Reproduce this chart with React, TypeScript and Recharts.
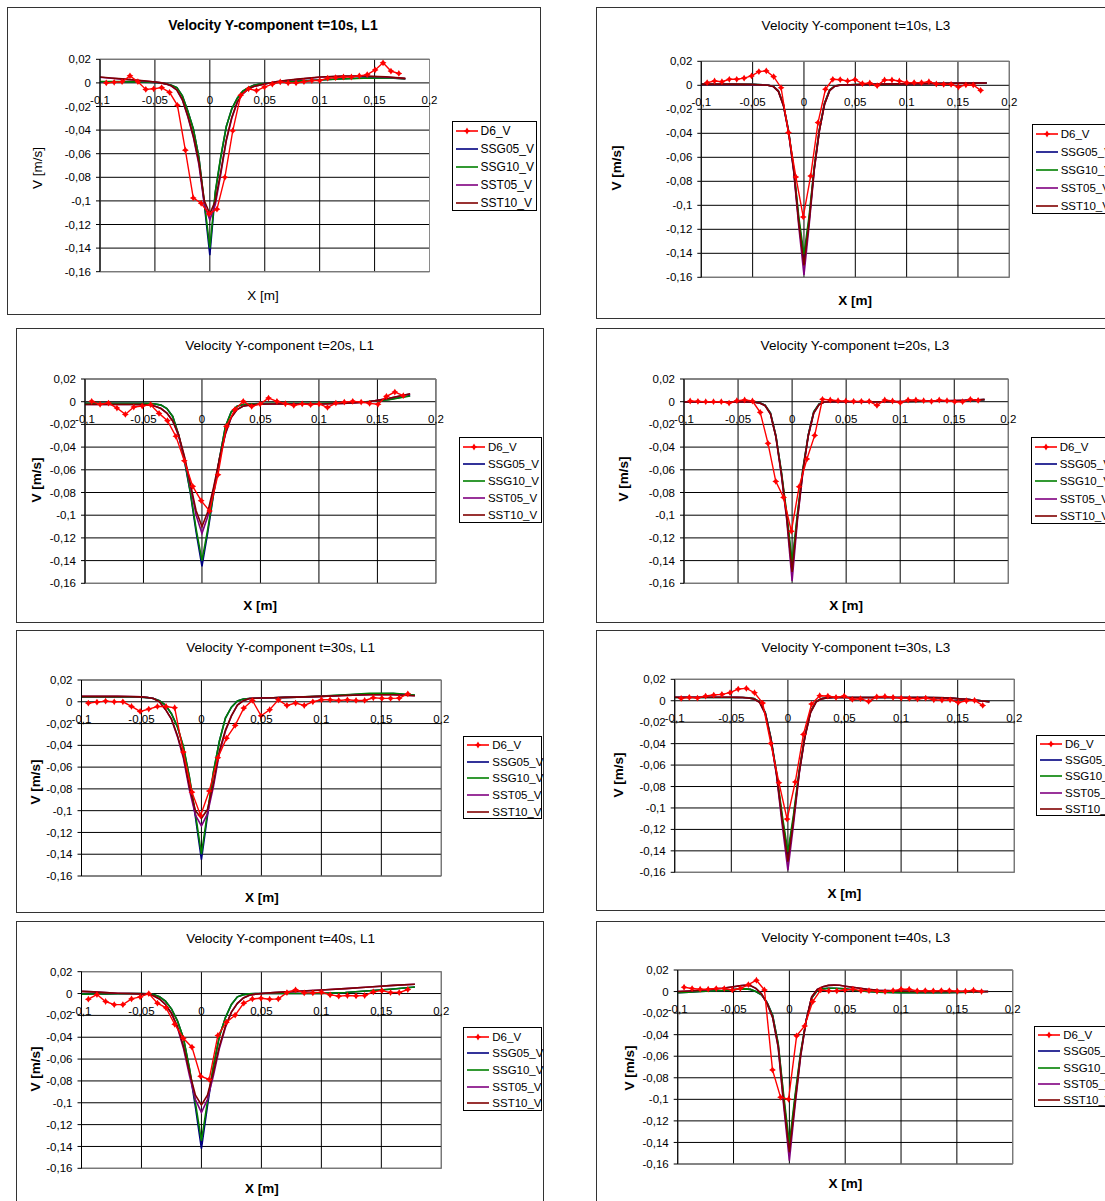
import React from "react";
import {
  CartesianGrid,
  Line,
  LineChart,
  ReferenceArea,
  ReferenceDot,
  XAxis,
  YAxis,
} from "recharts";

const FONT = '"Liberation Sans", Arial, sans-serif';

const xTicks = [-0.1, -0.05, 0, 0.05, 0.1, 0.15, 0.2];
const yTicks = [0.02, 0, -0.02, -0.04, -0.06, -0.08, -0.1, -0.12, -0.14, -0.16];
const seriesNames = ["D6_V", "SSG05_V", "SSG10_V", "SST05_V", "SST10_V"];
const seriesColors = ["#ff0000", "#000080", "#008000", "#800080", "#800000"];

// measured points (D6)
const d6X = [
  -0.0943, -0.0871, -0.0799, -0.0727, -0.0655, -0.0583, -0.0511, -0.0439, -0.0367, -0.0295,
  -0.0223, -0.0151, -0.0079, -0.0007, 0.0065, 0.0137, 0.0209, 0.0281, 0.0353, 0.0425,
  0.0497, 0.0569, 0.0641, 0.0713, 0.0785, 0.0857, 0.0929, 0.1001, 0.1073, 0.1145,
  0.1217, 0.1289, 0.1361, 0.1433, 0.1505, 0.1577, 0.1649, 0.1721,
];

// simulation output positions
const modelX = [
  -0.1, -0.09, -0.08, -0.07, -0.06, -0.05, -0.045, -0.04, -0.035, -0.03, -0.025, -0.02,
  -0.015, -0.01, -0.005, 0, 0.005, 0.01, 0.015, 0.02, 0.025, 0.03, 0.035, 0.04, 0.045,
  0.05, 0.06, 0.07, 0.08, 0.1, 0.12, 0.14, 0.16, 0.178,
];

// t=10s, L1
const t10L1D6 = [0, 0.0005, 0.001, 0.006, 0.001, -0.0055, -0.005, -0.004, -0.008, -0.019, -0.057, -0.0975, -0.102, -0.111, -0.107, -0.08, -0.0405, -0.0105, -0.005, -0.0065, -0.0035, -0.001, 0.0008, 0, 0, 0.001, 0.002, 0.002, 0.004, 0.0045, 0.005, 0.005, 0.006, 0.007, 0.011, 0.017, 0.01, 0.008];
const t10L1SSG05 = [0.001, 0.001, 0.001, 0.0008, 0.0006, 0.0003, 0, -0.0008, -0.002, -0.004, -0.011, -0.024, -0.039, -0.063, -0.103, -0.146, -0.093, -0.063, -0.037, -0.022, -0.013, -0.007, -0.004, -0.002, -0.001, -0.0005, 0.0003, 0.001, 0.0015, 0.0025, 0.0035, 0.0042, 0.0045, 0.0035];
const t10L1SSG10 = [0.0012, 0.0012, 0.0011, 0.0009, 0.0007, 0.0004, 0.0001, -0.0007, -0.002, -0.004, -0.011, -0.024, -0.039, -0.063, -0.101, -0.14, -0.092, -0.062, -0.037, -0.022, -0.013, -0.007, -0.004, -0.002, -0.001, -0.0005, 0.0003, 0.001, 0.0015, 0.0024, 0.0033, 0.004, 0.0043, 0.0034];
const t10L1SST05 = [0.0048, 0.004, 0.0032, 0.0024, 0.0016, 0.0007, 0.0001, -0.0009, -0.0027, -0.0062, -0.0145, -0.029, -0.046, -0.069, -0.103, -0.116, -0.103, -0.077, -0.049, -0.03, -0.0165, -0.0093, -0.0052, -0.0031, -0.002, -0.001, 0.0009, 0.002, 0.003, 0.0048, 0.0056, 0.0056, 0.005, 0.0036];
const t10L1SST10 = [0.005, 0.0042, 0.0034, 0.0026, 0.0018, 0.0008, 0.0002, -0.0008, -0.0025, -0.006, -0.014, -0.028, -0.045, -0.067, -0.1, -0.111, -0.1, -0.075, -0.048, -0.029, -0.016, -0.009, -0.005, -0.003, -0.002, -0.001, 0.001, 0.0022, 0.0032, 0.005, 0.0058, 0.0058, 0.0052, 0.0038];

// t=10s, L3
const t10L3D6 = [0.0022, 0.0036, 0.003, 0.005, 0.005, 0.006, 0.0078, 0.0114, 0.012, 0.0072, -0.002, -0.0394, -0.0764, -0.1097, -0.0756, -0.0311, -0.0033, 0.005, 0.0047, 0.0036, 0.0047, 0.0014, 0.0019, -0.0003, 0.0044, 0.0044, 0.0036, 0.0022, 0.0022, 0.0022, 0.003, 0.0011, 0.0008, 0.0008, -0.0014, 0.0003, 0.0003, -0.0042];
const t10L3SSG05 = [0.001, 0.001, 0.001, 0.001, 0.0009, 0.0008, 0.0006, 0.0004, 0.0001, -0.0008, -0.0045, -0.016, -0.038, -0.07, -0.113, -0.146, -0.112, -0.069, -0.037, -0.015, -0.004, -0.0005, 0.0002, 0.0004, 0.0005, 0.0006, 0.0008, 0.001, 0.0011, 0.0013, 0.0015, 0.0017, 0.0019, 0.002];
const t10L3SSG10 = [0.001, 0.001, 0.001, 0.001, 0.0009, 0.0008, 0.0006, 0.0004, 0.0001, -0.0008, -0.0045, -0.016, -0.038, -0.069, -0.11, -0.141, -0.109, -0.068, -0.037, -0.015, -0.004, -0.0005, 0.0002, 0.0004, 0.0005, 0.0006, 0.0008, 0.001, 0.0011, 0.0013, 0.0015, 0.0017, 0.0019, 0.002];
const t10L3SST05 = [0.0008, 0.0008, 0.0008, 0.0008, 0.0007, 0.0006, 0.0004, 0.0002, 0, -0.001, -0.005, -0.017, -0.039, -0.072, -0.118, -0.158, -0.117, -0.071, -0.038, -0.016, -0.0045, -0.0008, 0.0001, 0.0003, 0.0004, 0.0005, 0.0007, 0.0009, 0.001, 0.0012, 0.0014, 0.0016, 0.0018, 0.0019];
const t10L3SST10 = [0.0009, 0.0009, 0.0009, 0.0009, 0.0008, 0.0007, 0.0005, 0.0003, 0, -0.001, -0.005, -0.017, -0.039, -0.071, -0.115, -0.15, -0.114, -0.07, -0.038, -0.016, -0.0045, -0.0008, 0.0001, 0.0003, 0.0004, 0.0005, 0.0007, 0.0009, 0.001, 0.0012, 0.0014, 0.0016, 0.0018, 0.0019];

// t=20s, L1
const t20L1D6 = [0.0003, -0.0023, -0.0012, -0.0056, -0.0112, -0.0047, -0.0038, -0.0026, -0.0103, -0.0167, -0.0305, -0.052, -0.0746, -0.0872, -0.0963, -0.0643, -0.0217, -0.007, 0.0003, -0.0041, -0.002, 0.0032, 0.0003, -0.0018, -0.0032, -0.002, -0.0026, -0.002, -0.005, -0.0012, -0.0003, 0.0003, -0.0003, -0.0015, -0.0023, 0.0047, 0.0085, 0.0053];
const t20L1SSG05 = [-0.0015, -0.0015, -0.0015, -0.0015, -0.0015, -0.0015, -0.0016, -0.002, -0.003, -0.006, -0.013, -0.029, -0.052, -0.08, -0.115, -0.145, -0.115, -0.081, -0.05, -0.022, -0.009, -0.004, -0.0025, -0.002, -0.0018, -0.0017, -0.0016, -0.0016, -0.0016, -0.0016, -0.0012, -0.0002, 0.002, 0.0055];
const t20L1SSG10 = [-0.0013, -0.0013, -0.0013, -0.0013, -0.0013, -0.0013, -0.0015, -0.002, -0.003, -0.006, -0.013, -0.029, -0.051, -0.079, -0.112, -0.14, -0.112, -0.08, -0.05, -0.022, -0.009, -0.004, -0.0025, -0.002, -0.0018, -0.0016, -0.0015, -0.0015, -0.0015, -0.0015, -0.001, 0, 0.0018, 0.005];
const t20L1SST05 = [-0.0025, -0.0025, -0.0025, -0.0025, -0.0025, -0.0026, -0.003, -0.004, -0.006, -0.01, -0.017, -0.03, -0.049, -0.074, -0.1, -0.116, -0.101, -0.077, -0.051, -0.029, -0.014, -0.007, -0.004, -0.003, -0.0025, -0.0022, -0.002, -0.002, -0.002, -0.002, -0.0015, -0.0005, 0.003, 0.0068];
const t20L1SST10 = [-0.0025, -0.0025, -0.0025, -0.0025, -0.0025, -0.0026, -0.003, -0.004, -0.006, -0.01, -0.017, -0.029, -0.048, -0.072, -0.096, -0.11, -0.097, -0.075, -0.05, -0.028, -0.014, -0.007, -0.004, -0.003, -0.0025, -0.0022, -0.002, -0.002, -0.002, -0.002, -0.0015, -0.0005, 0.003, 0.007];

// t=20s, L3
const t20L3D6 = [0.0006, 0.0003, 0, 0, 0, -0.0012, 0.0009, 0.0015, 0.0006, -0.0094, -0.0367, -0.0702, -0.0843, -0.1142, -0.0749, -0.0505, -0.0297, 0.0021, 0.0015, 0.0009, 0.0006, 0.0003, 0.0003, 0.0003, -0.0032, 0.0015, 0.0006, -0.0009, 0.0015, 0.0015, 0.0009, 0.0003, 0.0015, 0.0009, 0, 0, 0.0021, 0.0012];
const t20L3SSG05 = [0, 0, 0, 0, 0, 0, 0, 0, -0.0003, -0.001, -0.003, -0.01, -0.03, -0.062, -0.1, -0.146, -0.1, -0.06, -0.029, -0.009, -0.002, 0, 0, 0, 0, 0, 0, 0, 0, 0, 0.0003, 0.0006, 0.001, 0.0018];
const t20L3SSG10 = [0, 0, 0, 0, 0, 0, 0, 0, -0.0003, -0.001, -0.003, -0.01, -0.03, -0.061, -0.098, -0.141, -0.098, -0.059, -0.029, -0.009, -0.002, 0, 0, 0, 0, 0, 0, 0, 0, 0, 0.0003, 0.0006, 0.001, 0.0018];
const t20L3SST05 = [-0.0002, -0.0002, -0.0002, -0.0002, -0.0002, -0.0002, -0.0002, -0.0002, -0.0005, -0.0012, -0.0035, -0.011, -0.031, -0.064, -0.104, -0.158, -0.104, -0.062, -0.03, -0.01, -0.0025, -0.0003, 0, 0, 0, 0, 0, 0, 0, 0.0002, 0.0004, 0.0007, 0.0012, 0.002];
const t20L3SST10 = [-0.0002, -0.0002, -0.0002, -0.0002, -0.0002, -0.0002, -0.0002, -0.0002, -0.0005, -0.0012, -0.0035, -0.011, -0.031, -0.063, -0.102, -0.15, -0.102, -0.061, -0.03, -0.01, -0.0025, -0.0003, 0, 0, 0, 0, 0, 0, 0, 0.0002, 0.0004, 0.0007, 0.0012, 0.002];

// t=30s, L1
const t30L1D6 = [-0.0012, -0.0003, 0.0006, 0, 0, -0.0043, -0.0089, -0.0067, -0.0043, -0.0043, -0.0055, -0.0462, -0.083, -0.1044, -0.082, -0.0514, -0.0334, -0.0217, -0.0058, 0.0012, -0.0129, -0.0073, 0.0018, -0.0034, -0.0012, -0.0034, 0, 0.0018, 0.0018, 0.0012, 0.0018, 0.0012, 0.0012, 0.0037, 0.0031, 0.0031, 0.0034, 0.0073];
const t30L1SSG05 = [0.0045, 0.0045, 0.0045, 0.0045, 0.0045, 0.0042, 0.0038, 0.003, 0.001, -0.003, -0.011, -0.023, -0.042, -0.07, -0.106, -0.145, -0.105, -0.065, -0.036, -0.015, -0.005, 0.0008, 0.0025, 0.003, 0.0033, 0.0035, 0.0037, 0.004, 0.0042, 0.005, 0.0062, 0.0074, 0.0076, 0.006];
const t30L1SSG10 = [0.0045, 0.0045, 0.0045, 0.0045, 0.0045, 0.0042, 0.0038, 0.003, 0.001, -0.003, -0.011, -0.023, -0.041, -0.069, -0.103, -0.14, -0.102, -0.064, -0.036, -0.015, -0.005, 0.0008, 0.0025, 0.003, 0.0033, 0.0035, 0.0037, 0.004, 0.0043, 0.0052, 0.0065, 0.0077, 0.0078, 0.0062];
const t30L1SST05 = [0.005, 0.005, 0.005, 0.005, 0.0048, 0.0045, 0.004, 0.003, 0, -0.007, -0.016, -0.032, -0.052, -0.081, -0.104, -0.114, -0.103, -0.078, -0.047, -0.027, -0.013, -0.003, 0.001, 0.003, 0.0033, 0.0035, 0.0037, 0.004, 0.0043, 0.005, 0.0058, 0.0064, 0.0065, 0.0055];
const t30L1SST10 = [0.005, 0.005, 0.005, 0.005, 0.0048, 0.0045, 0.004, 0.003, 0, -0.007, -0.016, -0.031, -0.05, -0.078, -0.1, -0.107, -0.099, -0.075, -0.045, -0.026, -0.013, -0.003, 0.001, 0.003, 0.0033, 0.0035, 0.0037, 0.004, 0.0043, 0.005, 0.0058, 0.0064, 0.0065, 0.0055];

// t=30s, L3
const t30L3D6 = [0.0022, 0.0031, 0.0025, 0.0044, 0.0053, 0.0059, 0.0075, 0.0109, 0.0115, 0.0075, -0.0022, -0.0398, -0.0765, -0.1104, -0.0758, -0.0314, -0.0031, 0.0047, 0.0044, 0.0031, 0.0044, 0.0012, 0.0019, -0.0006, 0.0037, 0.004, 0.0031, 0.0025, 0.0022, 0.0016, 0.0025, 0.0009, 0.0006, 0.0009, -0.0016, 0, 0.0003, -0.0044];
const t30L3SSG05 = [0.003, 0.003, 0.003, 0.003, 0.003, 0.003, 0.003, 0.003, 0.0028, 0.002, -0.001, -0.011, -0.035, -0.068, -0.11, -0.145, -0.109, -0.066, -0.033, -0.01, -0.0005, 0.002, 0.0028, 0.003, 0.003, 0.003, 0.003, 0.003, 0.003, 0.003, 0.003, 0.0028, 0.0012, -0.0008];
const t30L3SSG10 = [0.003, 0.003, 0.003, 0.003, 0.003, 0.003, 0.003, 0.003, 0.0028, 0.002, -0.001, -0.011, -0.035, -0.067, -0.107, -0.141, -0.106, -0.065, -0.033, -0.01, -0.0005, 0.002, 0.0028, 0.003, 0.003, 0.003, 0.003, 0.003, 0.003, 0.003, 0.003, 0.0028, 0.0012, -0.0008];
const t30L3SST05 = [0.0032, 0.0032, 0.0032, 0.0032, 0.0032, 0.0032, 0.0031, 0.003, 0.0026, 0.0016, -0.0015, -0.012, -0.036, -0.07, -0.116, -0.158, -0.115, -0.068, -0.034, -0.011, -0.001, 0.0018, 0.0027, 0.003, 0.003, 0.003, 0.003, 0.003, 0.003, 0.003, 0.003, 0.0027, 0.0011, -0.001];
const t30L3SST10 = [0.0032, 0.0032, 0.0032, 0.0032, 0.0032, 0.0032, 0.0031, 0.003, 0.0026, 0.0016, -0.0015, -0.012, -0.036, -0.069, -0.112, -0.15, -0.111, -0.067, -0.034, -0.011, -0.001, 0.0018, 0.0027, 0.003, 0.003, 0.003, 0.003, 0.003, 0.003, 0.003, 0.003, 0.0027, 0.0011, -0.001];

// t=40s, L1
const t40L1D6 = [-0.0052, -0.0009, -0.0073, -0.0101, -0.0101, -0.0049, -0.0031, 0, -0.0088, -0.0131, -0.0281, -0.0409, -0.0491, -0.0757, -0.0787, -0.0384, -0.0262, -0.0198, -0.0088, -0.0049, -0.0043, -0.0052, -0.0049, 0.0009, 0.0034, 0.0006, 0.0006, 0.0012, -0.0012, -0.0024, -0.0018, -0.0021, -0.0018, 0.0015, 0.0027, 0.0009, 0.0009, 0.0037];
const t40L1SSG05 = [-0.0005, -0.0004, -0.0003, -0.0002, -0.0001, 0, -0.0003, -0.001, -0.003, -0.007, -0.014, -0.025, -0.041, -0.069, -0.104, -0.142, -0.103, -0.067, -0.039, -0.022, -0.01, -0.003, -0.001, -0.0003, 0, 0, 0, 0, 0, 0.0002, 0.001, 0.0025, 0.0042, 0.006];
const t40L1SSG10 = [-0.0005, -0.0004, -0.0003, -0.0002, -0.0001, 0, -0.0003, -0.001, -0.003, -0.007, -0.014, -0.025, -0.041, -0.068, -0.1, -0.135, -0.099, -0.066, -0.039, -0.022, -0.01, -0.003, -0.001, -0.0003, 0, 0, 0, 0, 0, 0.0002, 0.001, 0.0025, 0.0042, 0.006];
const t40L1SST05 = [0.002, 0.0015, 0.0008, 0.0003, 0, -0.0003, -0.0007, -0.002, -0.005, -0.01, -0.018, -0.031, -0.05, -0.075, -0.097, -0.109, -0.097, -0.075, -0.05, -0.031, -0.017, -0.009, -0.004, -0.0015, -0.0005, 0, 0.0008, 0.0015, 0.002, 0.0032, 0.0045, 0.006, 0.0075, 0.0085];
const t40L1SST10 = [0.002, 0.0015, 0.0008, 0.0003, 0, -0.0003, -0.0007, -0.002, -0.005, -0.01, -0.018, -0.03, -0.048, -0.072, -0.093, -0.102, -0.093, -0.072, -0.048, -0.03, -0.017, -0.009, -0.004, -0.0015, -0.0005, 0, 0.0008, 0.0015, 0.002, 0.0032, 0.0045, 0.006, 0.0075, 0.0085];

// t=40s, L3
const t40L3D6 = [0.004, 0.0028, 0.0022, 0.0022, 0.0028, 0.0028, 0.0015, 0.0028, 0.0065, 0.0105, 0.0015, -0.0727, -0.0981, -0.0999, -0.0411, -0.0319, -0.0093, 0.0015, 0.0006, 0.0006, 0.0015, 0.0022, 0.0009, 0.0009, 0.0003, 0, 0.0009, 0.0022, 0.0022, 0.0006, 0.0009, 0.0006, 0.0009, 0.0009, 0.0003, 0.0003, 0.0012, 0];
const t40L3SSG05 = [-0.001, -0.0005, 0, 0.0005, 0.001, 0.0018, 0.0023, 0.0025, 0.002, 0, -0.003, -0.01, -0.022, -0.049, -0.1, -0.147, -0.1, -0.058, -0.027, -0.006, 0.001, 0.0025, 0.003, 0.003, 0.0028, 0.0025, 0.001, 0, -0.0005, -0.001, -0.001, -0.001, -0.0005, 0];
const t40L3SSG10 = [-0.001, -0.0005, 0, 0.0005, 0.001, 0.0018, 0.0023, 0.0025, 0.002, 0, -0.003, -0.01, -0.022, -0.048, -0.097, -0.141, -0.097, -0.057, -0.027, -0.006, 0.001, 0.0025, 0.003, 0.003, 0.0028, 0.0025, 0.001, 0, -0.0005, -0.001, -0.001, -0.001, -0.0005, 0];
const t40L3SST05 = [0, 0.0005, 0.0012, 0.002, 0.003, 0.0045, 0.0053, 0.0058, 0.0055, 0.003, -0.002, -0.011, -0.024, -0.052, -0.107, -0.157, -0.107, -0.061, -0.027, -0.005, 0.002, 0.0045, 0.0057, 0.006, 0.0058, 0.005, 0.0035, 0.002, 0.0012, 0.0004, 0, 0, 0, 0];
const t40L3SST10 = [0, 0.0005, 0.0012, 0.002, 0.003, 0.0045, 0.0053, 0.0058, 0.0055, 0.003, -0.002, -0.011, -0.024, -0.051, -0.104, -0.149, -0.104, -0.06, -0.027, -0.005, 0.002, 0.0045, 0.0057, 0.006, 0.0058, 0.005, 0.0035, 0.002, 0.0012, 0.0004, 0, 0, 0, 0];

type Layout = {
  box: [number, number, number, number]; // left, top, right, bottom
  plot: [number, number, number, number];
  title: [number, number];
  yLab: [number, number];
  xLab: [number, number];
  legend: [number, number, number, number]; // left, top, width, height
  first?: boolean;
};

type PanelDef = {
  title: string;
  layout: Layout;
  d6: number[];
  models: number[][];
};

const panels: PanelDef[] = [
  {
    title: "Velocity Y-component t=10s, L1",
    layout: { box: [7, 7, 541, 315], plot: [100, 59.3, 429.5, 271.7], title: [273, 24.7], yLab: [37, 168], xLab: [263, 294.7], legend: [451.6, 121.3, 85, 90], first: true },
    d6: t10L1D6,
    models: [t10L1SSG05, t10L1SSG10, t10L1SST05, t10L1SST10],
  },
  {
    title: "Velocity Y-component t=10s, L3",
    layout: { box: [596, 7, 1125, 319], plot: [701.3, 61.3, 1009.3, 277.3], title: [856, 24.7], yLab: [616, 168], xLab: [855, 300], legend: [1031.7, 123.7, 85, 90.3] },
    d6: t10L3D6,
    models: [t10L3SSG05, t10L3SSG10, t10L3SST05, t10L3SST10],
  },
  {
    title: "Velocity Y-component t=20s, L1",
    layout: { box: [16, 328, 544, 623], plot: [85, 379, 435.9, 583.3], title: [279.7, 345.3], yLab: [35.6, 479.7], xLab: [260, 604.7], legend: [458.9, 437.3, 83, 85.7] },
    d6: t20L1D6,
    models: [t20L1SSG05, t20L1SSG10, t20L1SST05, t20L1SST10],
  },
  {
    title: "Velocity Y-component t=20s, L3",
    layout: { box: [596, 328, 1125, 623], plot: [684, 379, 1008.3, 583.3], title: [855, 345], yLab: [623, 479], xLab: [846, 604.7], legend: [1030.7, 437.3, 85, 86.4] },
    d6: t20L3D6,
    models: [t20L3SSG05, t20L3SSG10, t20L3SST05, t20L3SST10],
  },
  {
    title: "Velocity Y-component t=30s, L1",
    layout: { box: [16, 630, 544, 913], plot: [81.5, 680, 441.3, 876], title: [280.7, 647.3], yLab: [35, 782], xLab: [261.8, 896.7], legend: [463.3, 736, 79, 83] },
    d6: t30L1D6,
    models: [t30L1SSG05, t30L1SSG10, t30L1SST05, t30L1SST10],
  },
  {
    title: "Velocity Y-component t=30s, L3",
    layout: { box: [596, 630, 1125, 911], plot: [674.7, 679.3, 1014.3, 872.3], title: [856, 646.7], yLab: [617.7, 775], xLab: [844.3, 893.3], legend: [1036, 735, 80, 81] },
    d6: t30L3D6,
    models: [t30L3SSG05, t30L3SSG10, t30L3SST05, t30L3SST10],
  },
  {
    title: "Velocity Y-component t=40s, L1",
    layout: { box: [16, 921, 544, 1215], plot: [81.5, 971.7, 441.3, 1168.3], title: [280.7, 938.3], yLab: [34.6, 1069], xLab: [261.8, 1188.3], legend: [463.3, 1027.3, 79, 83.4] },
    d6: t40L1D6,
    models: [t40L1SSG05, t40L1SSG10, t40L1SST05, t40L1SST10],
  },
  {
    title: "Velocity Y-component t=40s, L3",
    layout: { box: [596, 921, 1125, 1215], plot: [677.7, 970, 1012.7, 1164], title: [856, 937.3], yLab: [629.3, 1068.3], xLab: [845.3, 1183.3], legend: [1034.3, 1026, 80, 81.3] },
    d6: t40L3D6,
    models: [t40L3SSG05, t40L3SSG10, t40L3SST05, t40L3SST10],
  },
];

const Y_AXIS_W = 40;

const fmt = (v: number) => String(v).replace(".", ",");

function StarDot(props: any) {
  const { cx, cy, index } = props;
  if (cx == null || cy == null) return null;
  const a = 3.4;
  const b = 1.3;
  const pts = [
    [cx, cy - a], [cx + b, cy - b], [cx + a, cy], [cx + b, cy + b],
    [cx, cy + a], [cx - b, cy + b], [cx - a, cy], [cx - b, cy - b],
  ]
    .map((p) => p.join(","))
    .join(" ");
  return <polygon key={`m-${index}`} points={pts} fill="#ff0000" />;
}

function ChartLegend({ layout, first }: { layout: Layout; first?: boolean }) {
  const [l, t, w, h] = layout.legend;
  const rowH = h / 5;
  return (
    <div
      style={{
        position: "absolute",
        left: l - layout.box[0],
        top: t - layout.box[1],
        width: w,
        height: h,
        border: "1px solid #000",
        boxSizing: "border-box",
        background: "#fff",
        fontSize: first ? 12 : 11.5,
      }}
    >
      {seriesNames.map((name, i) => (
        <div
          key={name}
          style={{ position: "absolute", left: 0, top: i * rowH, height: rowH, display: "flex", alignItems: "center", whiteSpace: "nowrap" }}
        >
          <svg width={26} height={10} style={{ marginLeft: 2 }}>
            <line x1={1} y1={5} x2={23} y2={5} stroke={seriesColors[i]} strokeWidth={1.6} />
            {i === 0 && <StarDot cx={12} cy={5} index={0} />}
          </svg>
          <span>{name}</span>
        </div>
      ))}
    </div>
  );
}

function Panel({ def }: { def: PanelDef }) {
  const { layout } = def;
  const [bl, bt, br, bb] = layout.box;
  const [pl, pt, pr, pb] = layout.plot;
  const w = br - bl;
  const h = bb - bt;
  const axisWeight = layout.first ? 400 : 700;

  const d6Data = d6X.map((x, i) => ({ x, v: def.d6[i] }));
  const modelData = def.models.map((vals) => modelX.map((x, i) => ({ x, v: vals[i] })));

  return (
    <div style={{ position: "absolute", left: bl, top: bt, width: w, height: h, background: "#fff" }}>
      <div style={{ position: "absolute", inset: 0, border: "1px solid #333", boxSizing: "border-box" }} />
      <div style={{ position: "absolute", left: 0, top: 0 }}>
        <LineChart
          width={w}
          height={h}
          margin={{ top: pt - bt, bottom: bb - pb, left: pl - bl - Y_AXIS_W, right: br - pr }}
        >
          <CartesianGrid stroke="#000" strokeWidth={1} />
          <XAxis type="number" dataKey="x" domain={[-0.1, 0.2]} ticks={xTicks} hide allowDataOverflow />
          <YAxis
            type="number"
            domain={[-0.16, 0.02]}
            ticks={yTicks}
            interval={0}
            width={Y_AXIS_W}
            tickSize={4}
            tickMargin={5}
            tickFormatter={fmt}
            tick={{ fontSize: 11.5, fill: "#000", fontFamily: FONT }}
            axisLine={{ stroke: "#000" }}
            tickLine={{ stroke: "#000" }}
            allowDataOverflow
          />
          <ReferenceArea x1={-0.1} x2={0.2} y1={-0.16} y2={0.02} fill="none" stroke="#8a8a8a" strokeWidth={1} />
          {modelData.map((data, i) => (
            <Line
              key={seriesNames[i + 1]}
              data={data}
              dataKey="v"
              type="linear"
              stroke={seriesColors[i + 1]}
              strokeWidth={1.6}
              dot={false}
              activeDot={false}
              isAnimationActive={false}
            />
          ))}
          <Line
            data={d6Data}
            dataKey="v"
            type="linear"
            stroke={seriesColors[0]}
            strokeWidth={1.4}
            dot={<StarDot />}
            activeDot={false}
            isAnimationActive={false}
          />
          {xTicks.map((t) => (
            <ReferenceDot
              key={t}
              x={t}
              y={0}
              r={0}
              fill="none"
              stroke="none"
              isFront
              zIndex={2000}
              label={{ value: fmt(t), position: "bottom", offset: 13, fontSize: 11.5, fill: "#000", fontFamily: FONT }}
            />
          ))}
        </LineChart>
      </div>
      <div
        style={{
          position: "absolute",
          left: layout.title[0] - bl,
          top: layout.title[1] - bt,
          transform: "translate(-50%, -50%)",
          whiteSpace: "nowrap",
          fontSize: layout.first ? 14 : 13.5,
          fontWeight: layout.first ? 700 : 400,
        }}
      >
        {def.title}
      </div>
      <div
        style={{
          position: "absolute",
          left: layout.yLab[0] - bl,
          top: layout.yLab[1] - bt,
          transform: "translate(-50%, -50%) rotate(-90deg)",
          whiteSpace: "nowrap",
          fontSize: 13.5,
          fontWeight: axisWeight,
        }}
      >
        V [m/s]
      </div>
      <div
        style={{
          position: "absolute",
          left: layout.xLab[0] - bl,
          top: layout.xLab[1] - bt,
          transform: "translate(-50%, -50%)",
          whiteSpace: "nowrap",
          fontSize: 13.5,
          fontWeight: axisWeight,
        }}
      >
        X [m]
      </div>
      <ChartLegend layout={layout} first={layout.first} />
    </div>
  );
}

export default function App() {
  return (
    <div
      style={{
        position: "fixed",
        left: 0,
        top: 0,
        width: 1105,
        height: 1201,
        overflow: "hidden",
        background: "#fff",
        fontFamily: FONT,
        color: "#000",
      }}
    >
      {panels.map((p) => (
        <Panel key={p.title} def={p} />
      ))}
    </div>
  );
}
